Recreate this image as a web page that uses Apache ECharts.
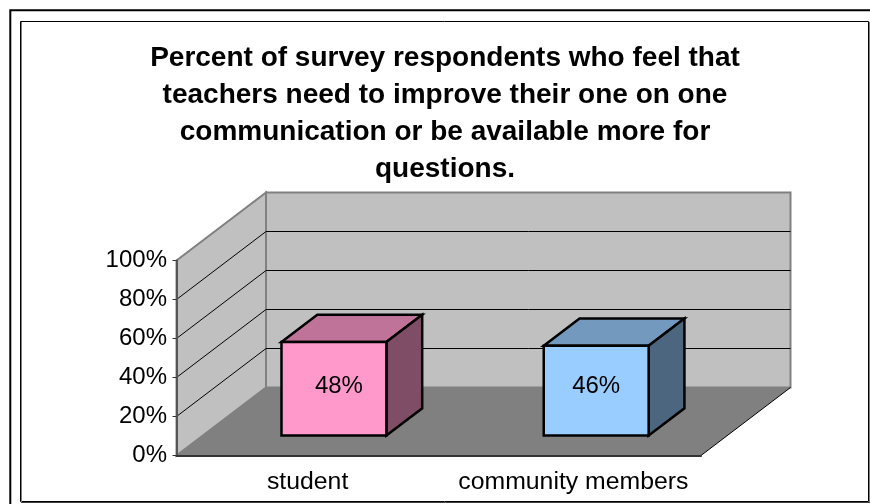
<!DOCTYPE html>
<html><head><meta charset="utf-8">
<style>html,body{margin:0;padding:0;background:#fff;overflow:hidden}#c{width:870px;height:504px}</style>
<script src="https://cdn.jsdelivr.net/npm/echarts@6/dist/echarts.min.js"></script>
</head><body><div id="c"></div>
<script>
const categories = ['student', 'community members'];
const values = [48, 46];
const yTicks = [0, 20, 40, 60, 80, 100];
const titleLines = [
  'Percent of survey respondents who feel that',
  'teachers need to improve their one on one',
  'communication or be available more for',
  'questions.'
];
const faceColors = ['#FF99CC', '#99CCFF'];
const topColors = ['#BF7399', '#7399BF'];
const sideColors = ['#804D66', '#4D6680'];

const DX = 89.5, DY = -68;          // full depth of the 3D box
const GAP_FRONT = 0.294, BAR_DEPTH = 0.4, BAR_W = 0.4;
const LABEL_SHIFT = [5, 0];
const FONT = '"Liberation Sans", Arial, sans-serif';

const chart = echarts.init(document.getElementById('c'));

function poly(points, fill, stroke, lw) {
  return { type: 'polygon', shape: { points }, style: { fill, stroke: stroke || 'none', lineWidth: lw || 0, lineJoin: 'miter' } };
}
function seg(a, b, stroke, lw) {
  return { type: 'line', shape: { x1: a[0], y1: a[1], x2: b[0], y2: b[1] }, style: { stroke, lineWidth: lw } };
}

function renderBox(params, api) {
  const size = api.size([1, 0])[0];
  const xL = api.coord([0, 0])[0] - size / 2;
  const xR = api.coord([1, 0])[0] + size / 2;
  const y0 = api.coord([0, 0])[1];
  const y1 = api.coord([0, 100])[1];
  const off = (p) => [p[0] + DX, p[1] + DY];
  const children = [
    poly([[xL, y1], off([xL, y1]), off([xL, y0]), [xL, y0]], '#C0C0C0', '#808080', 2),
    poly([off([xL, y1]), off([xR, y1]), off([xR, y0]), off([xL, y0])], '#C0C0C0', '#808080', 2),
    poly([[xL, y0], off([xL, y0]), off([xR, y0]), [xR, y0]], '#808080')
  ];
  children.push(seg([xR, y0], off([xR, y0]), '#000', 1));
  yTicks.forEach((t) => {
    if (t === 0 || t === 100) return;
    const y = api.coord([0, t])[1];
    children.push(seg([xL, y], off([xL, y]), '#000', 1));
    children.push(seg(off([xL, y]), off([xR, y]), '#000', 1));
  });
  return { type: 'group', children };
}

function renderBar(params, api) {
  const i = api.value(0), v = api.value(1);
  const size = api.size([1, 0])[0];
  const cx = api.coord([i, 0])[0] + DX * GAP_FRONT;
  const base = api.coord([i, 0])[1] + DY * GAP_FRONT;
  const top = base - (api.coord([i, 0])[1] - api.coord([i, v])[1]);
  const l = cx - size * BAR_W / 2, r = cx + size * BAR_W / 2;
  const ox = DX * BAR_DEPTH, oy = DY * BAR_DEPTH;
  const lw = 2.5;
  return {
    type: 'group',
    children: [
      poly([[l, top], [l + ox, top + oy], [r + ox, top + oy], [r, top]], topColors[i], '#000', lw),
      poly([[r, top], [r + ox, top + oy], [r + ox, base + oy], [r, base]], sideColors[i], '#000', lw),
      poly([[l, top], [r, top], [r, base], [l, base]], faceColors[i], '#000', lw),
      {
        type: 'text',
        style: {
          x: cx + LABEL_SHIFT[i], y: 386, text: v + '%', align: 'center', verticalAlign: 'middle',
          fill: '#000', font: '24px ' + FONT
        }
      }
    ]
  };
}

chart.setOption({
  animation: false,
  backgroundColor: '#fff',
  title: {
    text: titleLines.join('\n'),
    left: 440, top: 35, textAlign: 'center',
    textStyle: { fontFamily: FONT, fontSize: 28, fontWeight: 'bold', color: '#000', lineHeight: 37 }
  },
  graphic: [
    { type: 'rect', shape: { x: 10.3, y: 10.3, width: 900, height: 600 }, style: { fill: 'none', stroke: '#000', lineWidth: 2 }, z: 0 },
    { type: 'rect', shape: { x: 20.5, y: 21.5, width: 848, height: 480 }, style: { fill: 'none', stroke: '#000', lineWidth: 1 }, z: 0 },
    { type: 'line', shape: { x1: 21.5, y1: 22, x2: 21.5, y2: 502 }, style: { stroke: '#808080', lineWidth: 1 }, z: 0 },
    { type: 'line', shape: { x1: 869.5, y1: 22, x2: 869.5, y2: 503 }, style: { stroke: '#808080', lineWidth: 1 }, z: 0 },
    { type: 'line', shape: { x1: 21, y1: 502.5, x2: 870, y2: 502.5 }, style: { stroke: '#404040', lineWidth: 1 }, z: 0 }
  ],
  grid: { left: 176.5, top: 260.5, width: 524.5, height: 195 },
  xAxis: {
    type: 'category', data: categories,
    axisLine: { lineStyle: { color: '#333', width: 2 } },
    axisTick: { alignWithLabel: false, length: 5, lineStyle: { color: '#333', width: 1 } },
    axisLabel: {
      fontFamily: FONT, fontSize: 24.8, color: '#000', margin: 14, interval: 0, hideOverlap: false,
      formatter: (v, i) => (i === 1 ? '{s|' + v + '}' : v),
      rich: { s: { fontFamily: FONT, fontSize: 24.8, color: '#000', padding: [0, 0, 0, 7] } }
    },
    z: 5
  },
  yAxis: {
    type: 'value', min: 0, max: 100, interval: 20,
    axisLine: { show: true, lineStyle: { color: '#555', width: 2 } },
    axisTick: { show: true, length: 4, lineStyle: { color: '#333', width: 1 } },
    axisLabel: { fontFamily: FONT, fontSize: 24, color: '#000', margin: 9.5, formatter: '{value}%' },
    splitLine: { show: false },
    z: 5
  },
  series: [
    { type: 'custom', renderItem: renderBox, data: [[0, 0]], clip: false, z: 1, silent: true },
    { type: 'custom', renderItem: renderBar, encode: { x: 0, y: 1 }, data: values.map((v, i) => [i, v]), clip: false, z: 2, silent: true }
  ]
});
</script></body></html>
